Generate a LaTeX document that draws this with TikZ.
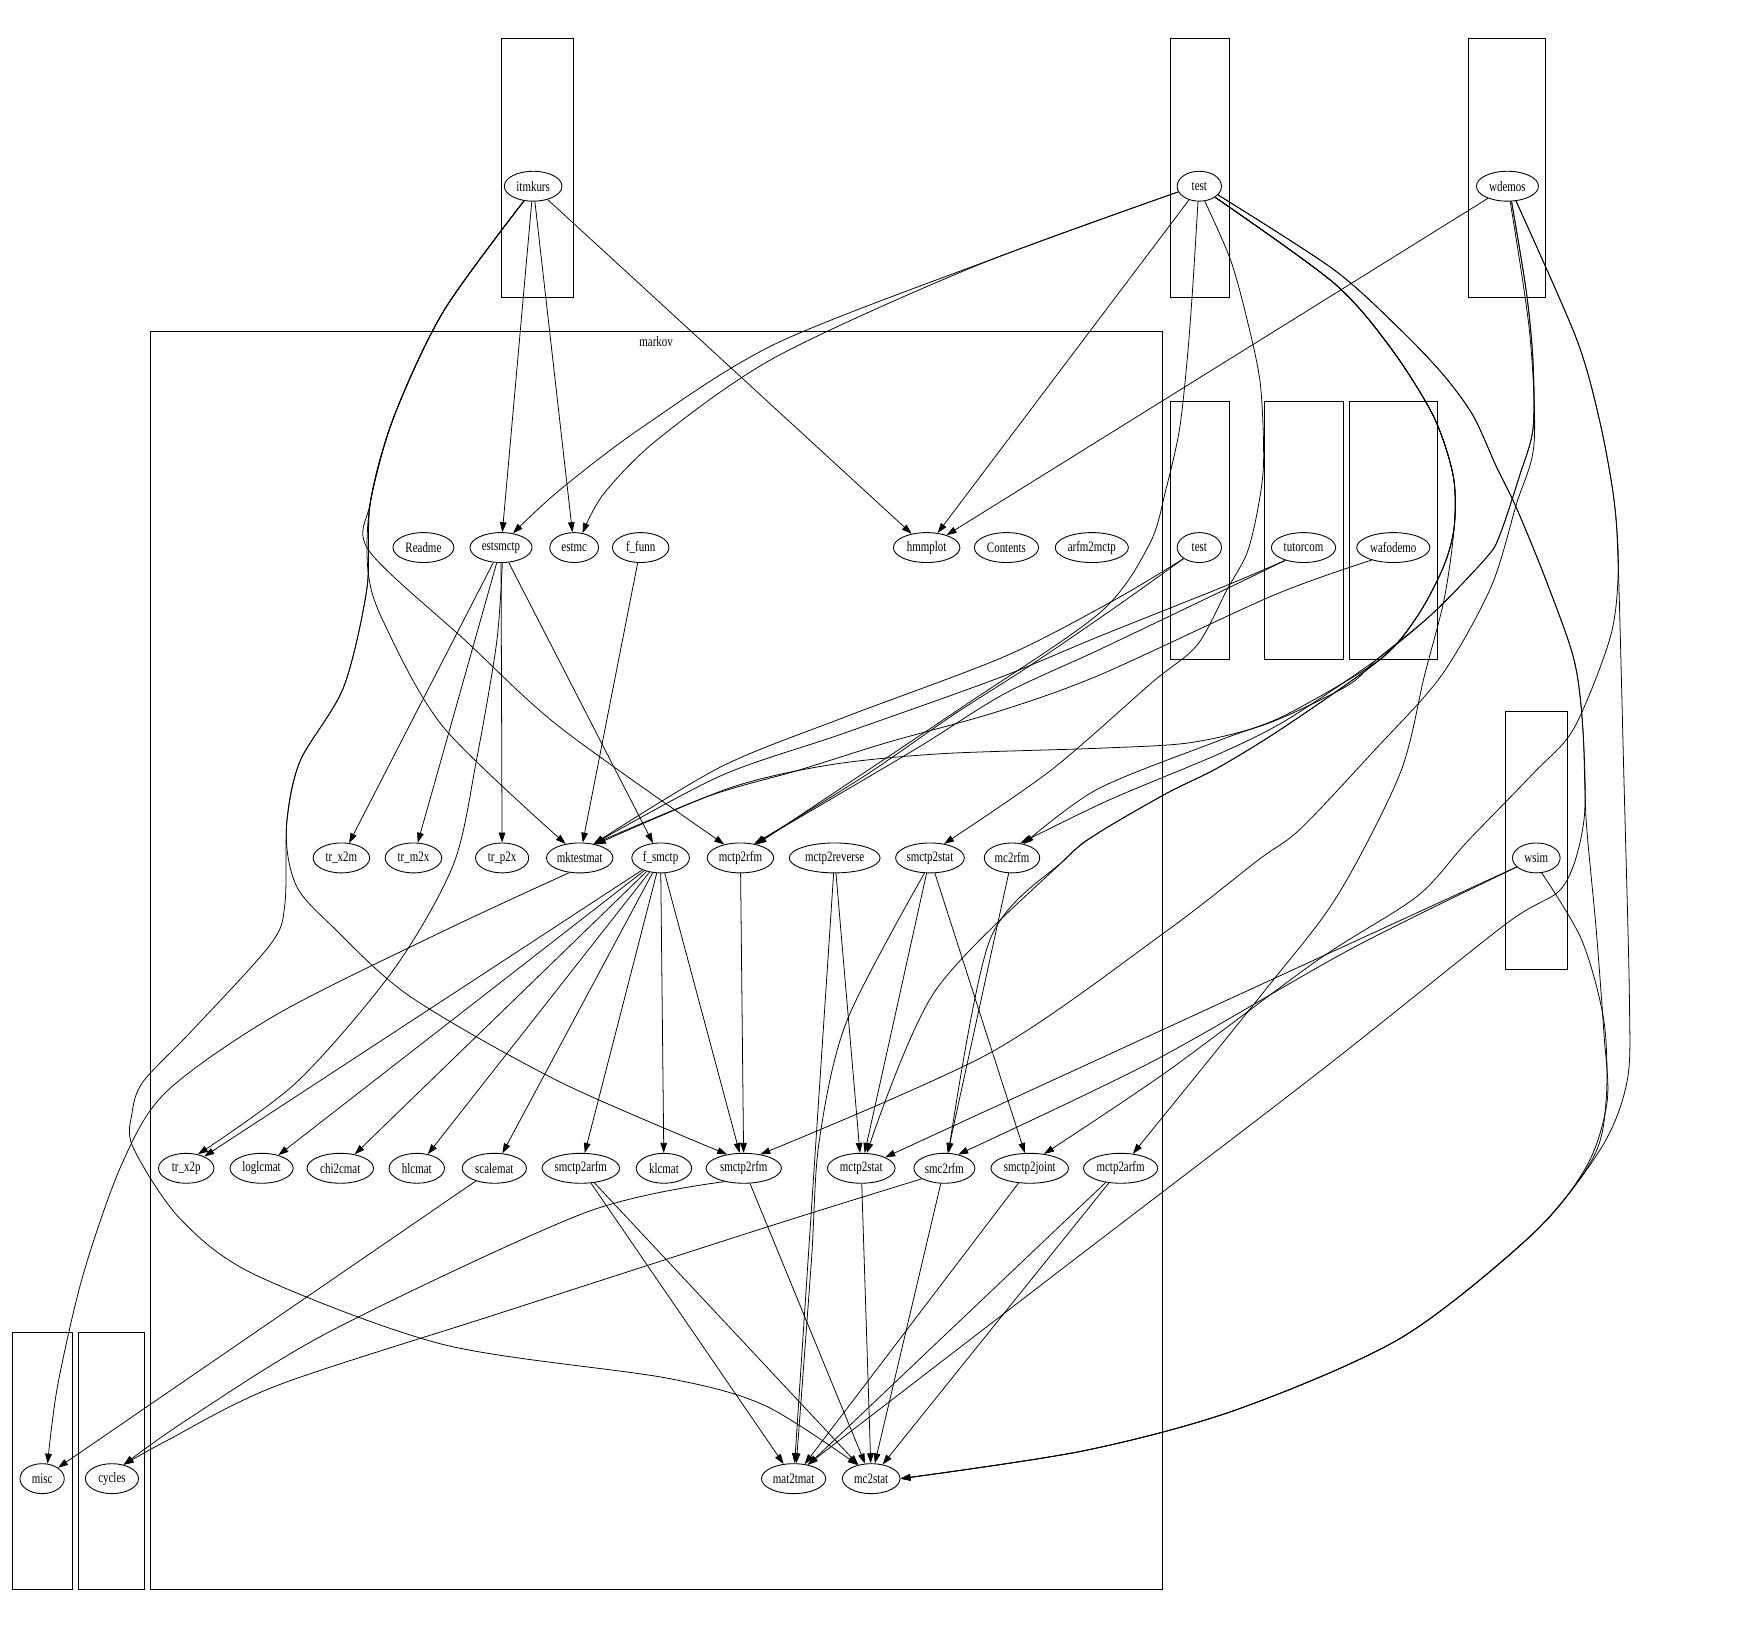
\documentclass[tikz,border=0pt]{standalone}
\usepackage{fontspec}
\setmainfont{Liberation Serif}[FakeStretch=0.76]
\usetikzlibrary{shapes.geometric,arrows.meta}
\begin{document}
\begin{tikzpicture}[x=1pt,y=-1pt,
  nd/.style={ellipse, draw, line width=0.8pt, inner sep=0pt, minimum height=27pt,
             font=\fontsize{13}{13}\selectfont},
  edge/.style={line width=0.7pt, -{Triangle[length=9pt,width=6pt]}},
  clu/.style={draw, line width=0.8pt}]
\useasboundingbox (0,0) rectangle (1568,1476);

% clusters
\draw[clu] (452,35) rectangle (517,268);
\draw[clu] (1056,35) rectangle (1109,268);
\draw[clu] (1325,35) rectangle (1394,268);
\draw[clu] (136,299) rectangle (1049,1434);
\draw[clu] (1056,362) rectangle (1109,595);
\draw[clu] (1141,362) rectangle (1212,595);
\draw[clu] (1217,362) rectangle (1297,595);
\draw[clu] (1358,642) rectangle (1414,875);
\draw[clu] (11,1202) rectangle (65,1434);
\draw[clu] (71,1202) rectangle (130,1434);
\node[font=\fontsize{13}{13}\selectfont] (markovlabel) at (592,308) {markov};

% nodes, top row
\node[nd, minimum width=52pt] (itmkurs) at (481,168) {itmkurs};
\node[nd, minimum width=40pt] (test) at (1082,168) {test};
\node[nd, minimum width=56pt] (wdemos) at (1360,168) {wdemos};
% second row
\node[nd, minimum width=55pt] (Readme) at (382,494) {Readme};
\node[nd, minimum width=56pt] (estsmctp) at (452,494) {estsmctp};
\node[nd, minimum width=44pt] (estmc) at (518,494) {estmc};
\node[nd, minimum width=51pt] (ffunn) at (578,494) {f\_funn};
\node[nd, minimum width=60pt] (hmmplot) at (836,494) {hmmplot};
\node[nd, minimum width=58pt] (Contents) at (908,494) {Contents};
\node[nd, minimum width=66pt] (arfm2mctp) at (985,494) {arfm2mctp};
\node[nd, minimum width=40pt] (test2) at (1082,494) {test};
\node[nd, minimum width=58pt] (tutorcom) at (1176,494) {tutorcom};
\node[nd, minimum width=66pt] (wafodemo) at (1257,494) {wafodemo};
% third row
\node[nd, minimum width=51pt] (trx2m) at (308,774) {tr\_x2m};
\node[nd, minimum width=51pt] (trm2x) at (373,774) {tr\_m2x};
\node[nd, minimum width=48pt] (trp2x) at (453,774) {tr\_p2x};
\node[nd, minimum width=60pt] (mktestmat) at (523,774) {mktestmat};
\node[nd, minimum width=52pt] (fsmctp) at (596,774) {f\_smctp};
\node[nd, minimum width=60pt] (mctp2rfm) at (668,774) {mctp2rfm};
\node[nd, minimum width=82pt] (mctp2reverse) at (753,774) {mctp2reverse};
\node[nd, minimum width=62pt] (smctp2stat) at (839,774) {smctp2stat};
\node[nd, minimum width=50pt] (mc2rfm) at (913,774) {mc2rfm};
\node[nd, minimum width=43pt] (wsim) at (1386,774) {wsim};
% fourth row
\node[nd, minimum width=50pt] (trx2p) at (168,1054) {tr\_x2p};
\node[nd, minimum width=57pt] (loglcmat) at (236,1054) {loglcmat};
\node[nd, minimum width=60pt] (chi2cmat) at (307,1054) {chi2cmat};
\node[nd, minimum width=50pt] (hlcmat) at (376,1054) {hlcmat};
\node[nd, minimum width=58pt] (scalemat) at (446,1054) {scalemat};
\node[nd, minimum width=70pt] (smctp2arfm) at (524,1054) {smctp2arfm};
\node[nd, minimum width=50pt] (klcmat) at (599,1054) {klcmat};
\node[nd, minimum width=68pt] (smctp2rfm) at (671,1054) {smctp2rfm};
\node[nd, minimum width=61pt] (mctp2stat) at (777,1054) {mctp2stat};
\node[nd, minimum width=55pt] (smc2rfm) at (852,1054) {smc2rfm};
\node[nd, minimum width=70pt] (smctp2joint) at (929,1054) {smctp2joint};
\node[nd, minimum width=67pt] (mctp2arfm) at (1011,1054) {mctp2arfm};
% bottom row
\node[nd, minimum width=40pt] (misc) at (38,1334) {misc};
\node[nd, minimum width=48pt] (cycles) at (101,1334) {cycles};
\node[nd, minimum width=58pt] (mat2tmat) at (716,1334) {mat2tmat};
\node[nd, minimum width=52pt] (mc2stat) at (786,1334) {mc2stat};

% edges from itmkurs
\draw[edge] (itmkurs) -- (estsmctp);
\draw[edge] (itmkurs) -- (estmc);
\draw[edge] (itmkurs) -- (hmmplot);
\draw[edge] plot[smooth] coordinates {(itmkurs.238) (400,281) (355,377) (334,454) (333,497) (420,578) (505,656) (mctp2rfm.140)};
\draw[edge] plot[smooth] coordinates {(itmkurs.238) (400,281) (355,377) (334,454) (332,515) (346,561) (400,656) (mktestmat.135)};
\draw[edge] plot[smooth] coordinates {(itmkurs.238) (400,281) (355,377) (334,454) (331,531) (310,620) (271,686) (259,739) (257,816) (244,852) (174,929) (129,976) (119,1005) (120,1035) (162,1099) (230,1150) (400,1213) (600,1243) (690,1268) (mc2stat.135)};
\draw[edge] plot[smooth] coordinates {(itmkurs.238) (400,281) (355,377) (334,454) (331,531) (310,620) (271,686) (259,739) (260,774) (270,804) (298,834) (370,899) (505,976) (smctp2rfm.140)};

% edges from test
\draw[edge] plot[smooth] coordinates {(test.195) (900,232) (700,310) (580,385) (505,442) (estsmctp.50)};
\draw[edge] plot[smooth] coordinates {(test.195) (880,240) (700,322) (595,395) (545,445) (estmc.60)};
\draw[edge] (test) -- (hmmplot);
\draw[edge] plot[smooth] coordinates {(test.265) (1076,260) (1071,325) (1064,388) (1052,441) (1037,491) (992,553) (865,640) (mctp2rfm.40)};
\draw[edge] plot[smooth] coordinates {(test.290) (1110,234) (1125,288) (1137,346) (1140,416) (1135,458) (1125,499) (1107,532) (1080,582) (1039,616) (948,695) (smctp2stat.45)};
\draw[edge] plot[smooth] coordinates {(test.325) (1203,255) (1254,313) (1293,375) (1311,429) (1312,475) (1302,512) (1278,557) (1245,595) (1160,645) (1100,668) (990,712) (mc2rfm.50)};
\draw[edge] plot[smooth] coordinates {(test.325) (1203,255) (1254,313) (1293,375) (1311,429) (1312,475) (1303,540) (1285,610) (1263,698) (1206,809) (1140,895) (mctp2arfm.50)};
\draw[edge] plot[smooth] coordinates {(test.325) (1203,255) (1254,313) (1293,375) (1311,429) (1312,475) (1302,512) (1278,557) (1245,595) (1160,655) (1100,692) (1052,716) (990,752) (960,776) (893,848) (smc2rfm.75)};
\draw[edge] plot[smooth] coordinates {(test.325) (1203,255) (1254,313) (1293,375) (1311,429) (1312,475) (1302,512) (1278,557) (1245,595) (1160,655) (1100,692) (1052,716) (990,752) (960,776) (843,895) (mctp2stat.70)};
\draw[edge] plot[smooth] coordinates {(test.335) (1203,243) (1263,297) (1302,338) (1329,375) (1350,421) (1368,458) (1395,524) (1420,595) (1428,657) (1429,740) (1410,800) (1358,834) (1189,968) (967,1138) (mat2tmat.45)};
\draw[edge] plot[smooth] coordinates {(test.335) (1203,243) (1263,297) (1302,338) (1329,375) (1350,421) (1368,458) (1395,524) (1420,595) (1428,657) (1431,740) (1440,838) (1447,932) (1450,993) (1432,1051) (1383,1113) (1264,1207) (1115,1272) (977,1309) (mc2stat.east)};

% edges from wdemos
\draw[edge] (wdemos) -- (hmmplot);
\draw[edge] plot[smooth] coordinates {(wdemos.285) (1377,263) (1383,325) (1383,387) (1371,429) (1353,483) (1341,503) (1293,553) (1242,595) (1215,619) (1143,653) (1074,670) (992,675) (849,680) (749,690) (658,711) (mktestmat.40)};
\draw[edge] plot[smooth] coordinates {(wdemos.285) (1377,263) (1383,325) (1383,387) (1371,429) (1353,483) (1341,503) (1293,553) (1242,595) (1160,650) (1100,680) (1000,722) (mc2rfm.60)};
\draw[edge] plot[smooth] coordinates {(wdemos.280) (1380,300) (1384,400) (1368,455) (1345,530) (1300,610) (1239,678) (1173,748) (1135,776) (1051,841) (893,950) (smctp2rfm.40)};
\draw[edge] plot[smooth] coordinates {(wdemos.300) (1422,305) (1443,379) (1456,450) (1460,512) (1453,574) (1420,657) (1383,698) (1323,760) (1278,809) (1189,866) (1051,968) (smctp2joint.45)};
\draw[edge] plot[smooth] coordinates {(wdemos.300) (1422,305) (1443,379) (1456,450) (1460,512) (1465,700) (1470,900) (1468,975) (1445,1035) (1383,1113) (1264,1207) (1115,1272) (977,1309) (mc2stat.east)};

% edges from wsim
\draw[edge] (wsim) -- (mctp2stat);
\draw[edge] plot[smooth] coordinates {(wsim.205) (1219,856) (1041,957) (smc2rfm.45)};
\draw[edge] plot[smooth] coordinates {(wsim.290) (1427,848) (1447,921) (1449,993) (1437,1045) (1383,1113) (1264,1207) (1115,1272) (977,1309) (mc2stat.east)};

% edges from test, tutorcom, wafodemo (middle column)
\draw[edge] plot[smooth] coordinates {(test2.215) (1006,541) (907,592) (762,647) (650,692) (mktestmat.45)};
\draw[edge] plot[smooth] coordinates {(test2.215) (1006,548) (930,600) (860,645) (780,700) (mctp2rfm.45)};
\draw[edge] plot[smooth] coordinates {(tutorcom.215) (1107,528) (992,574) (900,612) (760,662) (650,700) (mktestmat.45)};
\draw[edge] plot[smooth] coordinates {(tutorcom.215) (1107,531) (992,586) (906,626) (824,677) (mctp2rfm.45)};
\draw[edge] plot[smooth] coordinates {(wafodemo.210) (1149,537) (992,609) (900,642) (800,670) (720,695) (640,718) (mktestmat.45)};

% edges inside markov
\draw[edge] (estsmctp) -- (trx2m);
\draw[edge] (estsmctp) -- (trm2x);
\draw[edge] (estsmctp) -- (trp2x);
\draw[edge] (estsmctp) -- (fsmctp);
\draw[edge] plot[smooth] coordinates {(estsmctp.275) (448,580) (430,685) (409,780) (355,875) (268,976) (trx2p.50)};
\draw[edge] (ffunn) -- (mktestmat);
\draw[edge] plot[smooth] coordinates {(mktestmat.235) (400,840) (250,915) (150,985) (110,1050) (75,1150) (52,1250) (misc.70)};
\foreach \t in {trx2p,loglcmat,chi2cmat,hlcmat,scalemat,smctp2arfm,klcmat,smctp2rfm}
  \draw[edge] (fsmctp) -- (\t);
\draw[edge] (mctp2rfm) -- (smctp2rfm);
\draw[edge] (mctp2reverse) -- (mat2tmat);
\draw[edge] (mctp2reverse) -- (mctp2stat);
\draw[edge] plot[smooth] coordinates {(smctp2stat.250) (764,921) (739,1030) (732,1138) (mat2tmat.80)};
\draw[edge] (smctp2stat) -- (mctp2stat);
\draw[edge] (smctp2stat) -- (smctp2joint);
\draw[edge] (mc2rfm) -- (smc2rfm);
\draw[edge] (scalemat) -- (misc);
\draw[edge] (smctp2arfm) -- (mat2tmat);
\draw[edge] (smctp2arfm) -- (mc2stat);
\draw[edge] (smctp2rfm) -- (mc2stat);
\draw[edge] plot[smooth] coordinates {(smctp2rfm.215) (528,1094) (300,1200) (170,1280) (cycles.50)};
\draw[edge] (mctp2stat) -- (mc2stat);
\draw[edge] (smc2rfm) -- (mc2stat);
\draw[edge] plot[smooth] coordinates {(smc2rfm.205) (695,1106) (450,1185) (250,1250) (150,1300) (cycles.50)};
\draw[edge] (smctp2joint) -- (mat2tmat);
\draw[edge] (mctp2arfm) -- (mat2tmat);
\draw[edge] (mctp2arfm) -- (mc2stat);
\end{tikzpicture}
\end{document}
